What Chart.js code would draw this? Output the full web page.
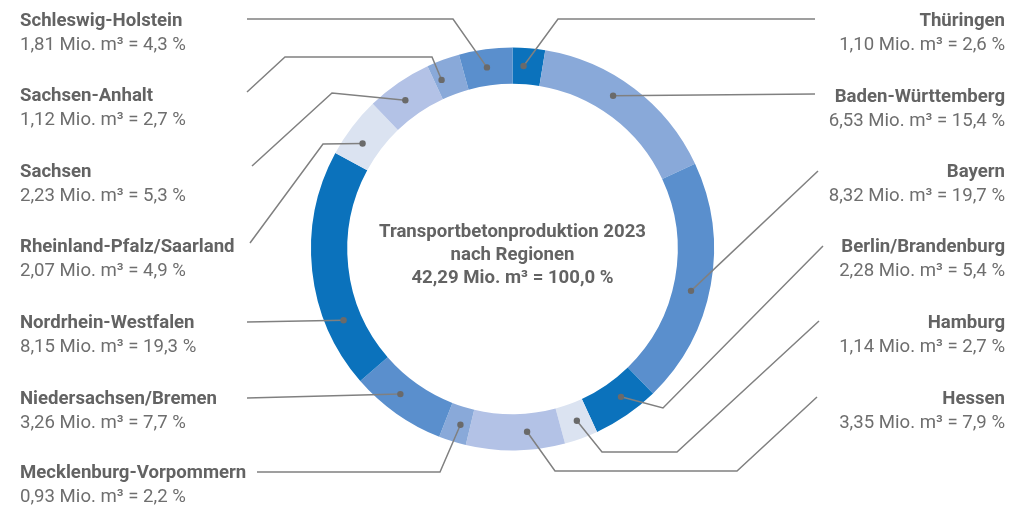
<!DOCTYPE html>
<html>
<head>
<meta charset="utf-8">
<script src="https://cdn.jsdelivr.net/npm/chart.js@4.4.1/dist/chart.umd.min.js"></script>
<style>
  body { margin: 0; background: #fff; }
</style>
</head>
<body>
<canvas id="myChart" width="1025" height="505"></canvas>
<script>
'use strict';
// data, clockwise from the top
const regions = ['Thüringen', 'Baden-Württemberg', 'Bayern', 'Berlin/Brandenburg', 'Hamburg', 'Hessen',
  'Mecklenburg-Vorpommern', 'Niedersachsen/Bremen', 'Nordrhein-Westfalen', 'Rheinland-Pfalz/Saarland',
  'Sachsen', 'Sachsen-Anhalt', 'Schleswig-Holstein'];
const volumes = [1.10, 6.53, 8.32, 2.28, 1.14, 3.35, 0.93, 3.26, 8.15, 2.07, 2.23, 1.12, 1.81];
const shares = [2.6, 15.4, 19.7, 5.4, 2.7, 7.9, 2.2, 7.7, 19.3, 4.9, 5.3, 2.7, 4.3];
const centerLines = ['Transportbetonproduktion 2023', 'nach Regionen', '42,29 Mio. m³ = 100,0 %'];

const dark = '#0b72bc';
const midBlue = '#5a8fcd';
const lightMid = '#89a9d9';
const light = '#b3c2e6';
const paler = '#dbe3f1';
const sliceColors = [dark, lightMid, midBlue, dark, paler, light, lightMid, midBlue, dark, paler, light, lightMid, midBlue];

// label layout: side, name baseline, where along the slice the dot sits, leader bends from the text to the dot
const labelSpots = [
  {side: 'right', y: 26, at: 0.37, bends: [[815, 19], [558, 19]]},
  {side: 'right', y: 102, at: 0.43, bends: [[815, 94]]},
  {side: 'right', y: 177, at: 0.54, bends: [[818, 171]]},
  {side: 'right', y: 252, at: 0.41, bends: [[823, 246], [663, 408]]},
  {side: 'right', y: 328, at: 0.44, bends: [[819, 321], [677, 452], [602, 452]]},
  {side: 'right', y: 404, at: 0.37, bends: [[817, 397], [737, 471], [555, 471]]},
  {side: 'left', y: 478, at: 0.39, bends: [[257, 472], [440, 472]]},
  {side: 'left', y: 404, at: 0.59, bends: [[247, 398]]},
  {side: 'left', y: 328, at: 0.26, bends: [[247, 322]]},
  {side: 'left', y: 252, at: 0.38, bends: [[250, 243], [323, 144]]},
  {side: 'left', y: 177, at: 0.43, bends: [[252, 166], [332, 93]]},
  {side: 'left', y: 101, at: 0.23, bends: [[247, 92], [285, 57], [432, 57]]},
  {side: 'left', y: 26, at: 0.48, bends: [[247, 19], [453, 19]]}
];

function deNum(v, d) {
  return v.toFixed(d).replace('.', ',');
}

const leaderPlugin = {
  id: 'leaders',
  afterDraw(chart) {
    const ctx = chart.ctx;
    const arcs = chart.getDatasetMeta(0).data;
    ctx.save();
    arcs.forEach((arc, i) => {
      const spot = labelSpots[i];
      const p = arc.getProps(['x', 'y', 'startAngle', 'endAngle', 'innerRadius', 'outerRadius'], true);
      const a = p.startAngle + (p.endAngle - p.startAngle) * spot.at;
      const r = (p.innerRadius + p.outerRadius) / 2;
      const dotX = p.x + Math.cos(a) * r;
      const dotY = p.y + Math.sin(a) * r;

      ctx.strokeStyle = '#808080';
      ctx.lineWidth = 1.5;
      ctx.beginPath();
      ctx.moveTo(spot.bends[0][0], spot.bends[0][1]);
      for (let b = 1; b < spot.bends.length; b++) {
        ctx.lineTo(spot.bends[b][0], spot.bends[b][1]);
      }
      ctx.lineTo(dotX, dotY);
      ctx.stroke();

      ctx.fillStyle = '#6a6a6a';
      ctx.beginPath();
      ctx.arc(dotX, dotY, 3.2, 0, Math.PI * 2);
      ctx.fill();

      const onLeft = spot.side === 'left';
      const tx = onLeft ? 20 : 1005;
      ctx.textAlign = onLeft ? 'left' : 'right';
      ctx.textBaseline = 'alphabetic';
      ctx.font = 'bold 18.6px Roboto';
      ctx.fillStyle = '#636363';
      ctx.fillText(regions[i], tx, spot.y);
      ctx.font = '18.6px Roboto';
      ctx.fillStyle = '#6e6e6e';
      ctx.fillText(deNum(volumes[i], 2) + ' Mio. m³ = ' + deNum(shares[i], 1) + ' %', tx, spot.y + 24);
    });

    const c = arcs[0].getProps(['x', 'y'], true);
    ctx.textAlign = 'center';
    ctx.font = 'bold 18.6px Roboto';
    ctx.fillStyle = '#636363';
    centerLines.forEach((line, k) => {
      ctx.fillText(line, c.x, c.y - 12 + k * 23);
    });
    ctx.restore();
  }
};

const config = {
  type: 'doughnut',
  data: {
    labels: regions,
    datasets: [{
      data: volumes,
      backgroundColor: sliceColors,
      borderWidth: 0,
      hoverOffset: 0
    }]
  },
  options: {
    responsive: false,
    animation: false,
    cutout: '82%',
    layout: {
      padding: {left: 311, right: 311, top: 47, bottom: 54}
    },
    plugins: {
      legend: {display: false},
      tooltip: {enabled: false}
    }
  },
  plugins: [leaderPlugin]
};

const myChart = new Chart(document.getElementById('myChart'), config);
</script>
</body>
</html>
